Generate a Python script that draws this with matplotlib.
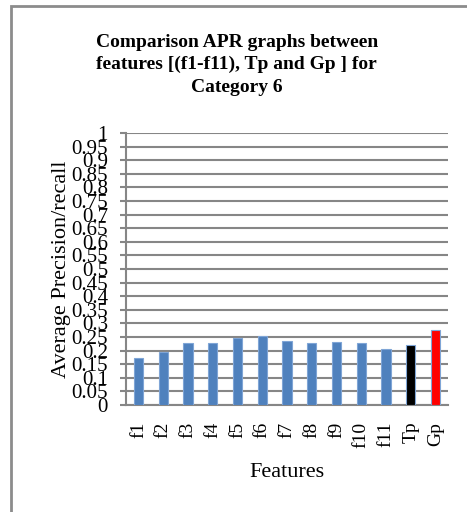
import matplotlib
matplotlib.use('Agg')
import matplotlib.pyplot as plt
import numpy as np
from matplotlib.patches import Rectangle

features = ['f1', 'f2', 'f3', 'f4', 'f5', 'f6', 'f7', 'f8', 'f9', 'f10', 'f11', 'Tp', 'Gp']
apr = [0.174, 0.196, 0.227, 0.228, 0.245, 0.252, 0.235, 0.228, 0.232, 0.227, 0.206, 0.222, 0.277]
bar_colors = ['#4f81bd'] * 11 + ['#000000', '#ff0000']
yticks = [round(0.05 * i, 2) for i in range(21)]

plt.rcParams['font.family'] = ['Liberation Serif', 'DejaVu Serif']

fig = plt.figure(figsize=(4.67, 5.12), dpi=100)
ax = fig.add_axes([0.27, 0.209, 0.689, 0.531])

x = np.arange(len(features))
ax.bar(x, apr, width=0.38, color=bar_colors, edgecolor='#7fa5d6', linewidth=0.8, zorder=3)

ax.set_xlim(-0.5, len(features) - 0.5)
ax.set_ylim(0, 1)
ax.set_yticks(yticks)
ax.set_yticklabels(['%g' % v for v in yticks], fontsize=15)
ax.set_xticks(x)
ax.set_xticklabels(features, rotation=90, fontsize=14)
ax.yaxis.grid(True, color='#868686', linewidth=1.5, zorder=0)
ax.set_axisbelow(True)

for s in ['top', 'right']:
    ax.spines[s].set_visible(False)
for s in ['left', 'bottom']:
    ax.spines[s].set_color('#868686')
    ax.spines[s].set_linewidth(1.5)
ax.tick_params(axis='y', length=4, color='#868686', width=1.5, pad=9)
ax.tick_params(axis='x', length=0, pad=12)

ax.set_ylabel('Average Precision/recall', fontsize=16, labelpad=0)
ax.set_xlabel('Features', fontsize=16, labelpad=11)

fig.text(0.507, 0.934, 'Comparison APR graphs between\nfeatures [(f1-f11), Tp and Gp ] for\nCategory 6',
         ha='center', va='top', fontsize=14, fontweight='bold', linespacing=1.4)

# outer chart border
fig.patches.append(Rectangle((11 / 467, -0.1), 1.2, 1 - 6 / 512 + 0.1, transform=fig.transFigure,
                             fill=False, edgecolor='#8c8c8c', linewidth=2))

fig.savefig('out.png', dpi=100)
